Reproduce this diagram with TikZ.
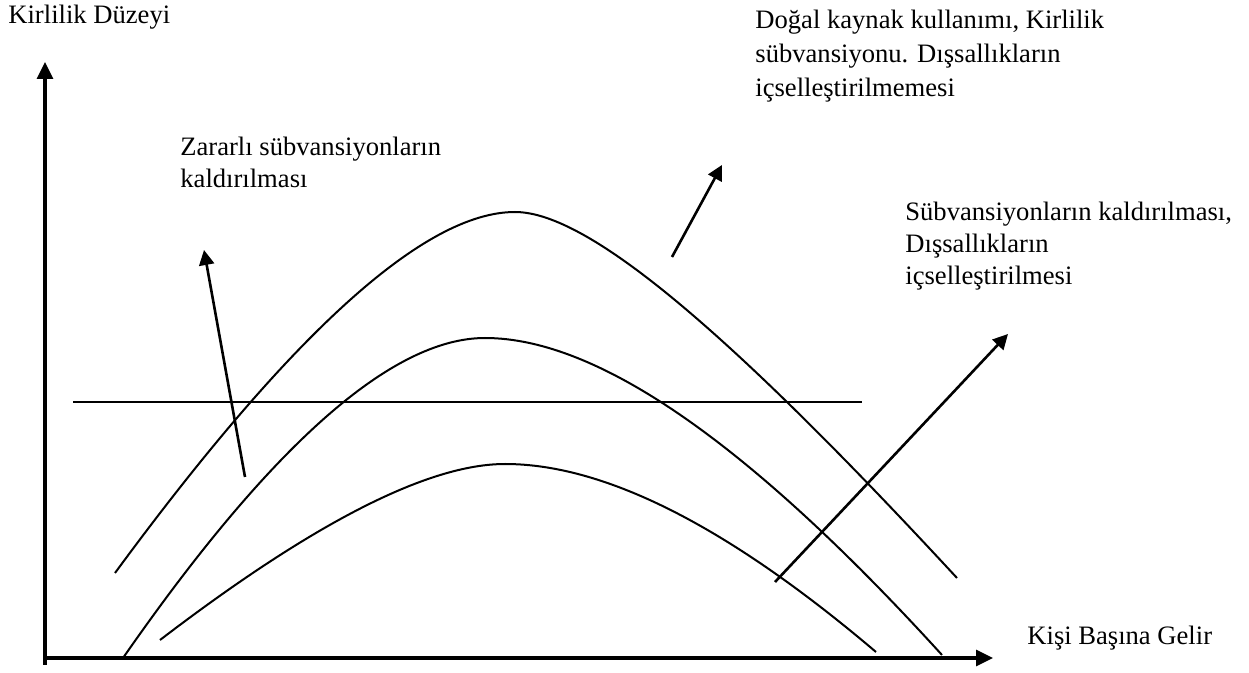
\documentclass[tikz,border=0pt]{standalone}
\usepackage{fontspec}
\setmainfont{Liberation Serif}
\usetikzlibrary{arrows.meta}
\tikzset{
  eksen/.style={line width=1.6pt,-{Triangle[length=8.5pt,width=8pt]}},
  egri/.style={line width=1pt},
  yon/.style={line width=1.3pt,-{Triangle[length=7.5pt,width=7.5pt]}},
  etiket/.style={inner sep=0pt,anchor=base west,align=left,
    font=\fontsize{13.3}{16}\selectfont}
}
\begin{document}
\begin{tikzpicture}[x=0.5pt,y=-0.5pt]
                \useasboundingbox (0,0) rectangle (1249,673);
                \def\ox{45} \def\oy{658}
                \def\mx{993} \def\my{62}
                \coordinate (O) at (\ox,\oy);
                \coordinate (xson) at (\mx,\oy);
                \coordinate (yson) at (\ox,\my);
                %===========================================
                \draw[eksen] (\ox,665)--(yson);
                \draw[eksen] (O)--(xson);
                \node[etiket] (yad) at (8,24) {Kirlilik Düzeyi};
                \node[etiket] (xad) at (1027,645) {Kişi Başına Gelir};
                %=========================================== curves
                \draw[egri] (115,573) .. controls (292,332) and (425,212) .. (515,212)
                        .. controls (590,212) and (735,338) .. (957,578);
                \draw[egri] (123,658) .. controls (271,445) and (392,338) .. (485,338)
                        .. controls (598,338) and (750,444) .. (942,655);
                \draw[egri] (160,640) .. controls (313,523) and (428,464) .. (505,464)
                        .. controls (606,464) and (730,528) .. (876,652);
                \coordinate (esikA) at (73,402);
                \coordinate (esikB) at (862,402);
                \draw[egri] (esikA)--(esikB);
                %=========================================== arrows
                \coordinate (a1) at (245,477); \coordinate (b1) at (204,250);
                \coordinate (a2) at (672,257); \coordinate (b2) at (722,165);
                \coordinate (a3) at (775,582); \coordinate (b3) at (1008,334);
                \draw[yon] (a1)--(b1);
                \draw[yon] (a2)--(b2);
                \draw[yon] (a3)--(b3);
                \node[etiket] (zarar) at (180,188) {Zararlı sübvansiyonların\\kaldırılması};
                \node[etiket,font=\fontsize{13.3}{17}\selectfont] (dogal) at (755,97)
                        {Doğal kaynak kullanımı, Kirlilik\\sübvansiyonu. Dışsallıkların\\içselleştirilmemesi};
                \node[etiket] (subv) at (905,285) {Sübvansiyonların kaldırılması,\\Dışsallıkların\\içselleştirilmesi};
\end{tikzpicture}
\end{document}
